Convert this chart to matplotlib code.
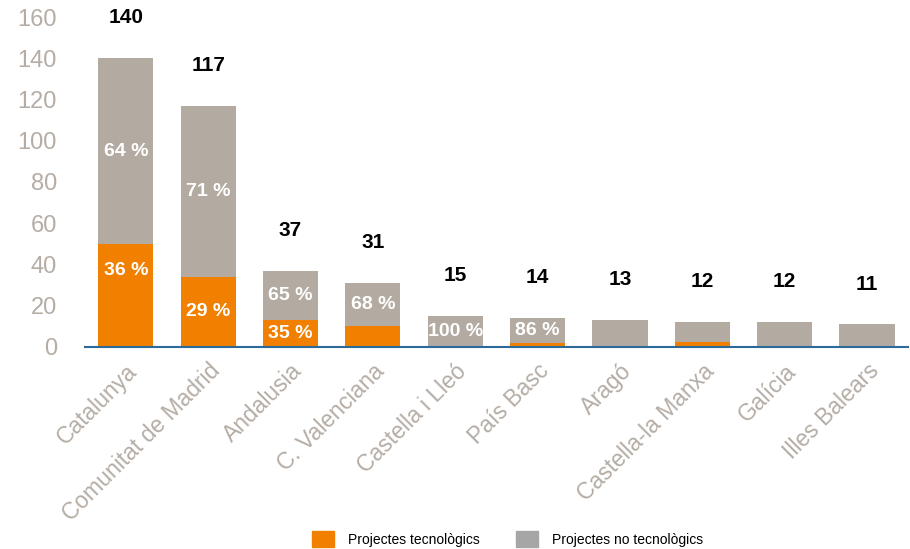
import matplotlib.pyplot as plt
from matplotlib.patches import Patch
import numpy as np

plt.rcParams['font.family'] = ['Liberation Sans', 'DejaVu Sans']

# data
regions = ["Catalunya", "Comunitat de Madrid", "Andalusia", "C. Valenciana",
           "Castella i Lleó", "País Basc", "Aragó", "Castella-la Manxa",
           "Galícia", "Illes Balears"]
totals = [140, 117, 37, 31, 15, 14, 13, 12, 12, 11]
tech = [50, 34, 13, 10, 0, 2, 0.4, 2.5, 0.4, 0.6]
tech_pct = ["36 %", "29 %", "35 %", "", "", "", "", "", "", ""]
notech_pct = ["64 %", "71 %", "65 %", "68 %", "100 %", "86 %", "", "", "", ""]

ORANGE = '#f28000'
BEIGE = '#b3aba2'
LEGEND_GRAY = '#a6a6a6'
TICK_GRAY = '#b5ada5'
AXIS_BLUE = '#2b6a99'

tech = np.array(tech)
notech = np.array(totals) - tech
x = np.arange(len(regions))

fig = plt.figure(figsize=(9.1, 5.49), dpi=100)
ax = fig.add_axes([0.093, 0.368, 0.905, 0.601])

ax.bar(x, tech, width=0.67, color=ORANGE, linewidth=0)
ax.bar(x, notech, width=0.67, bottom=tech, color=BEIGE, linewidth=0)

# totals above bars
for xi, t in zip(x, totals):
    ax.annotate(str(t), (xi, t), xytext=(0, 29), textcoords='offset points',
                ha='center', va='center', fontsize=15, fontweight='bold',
                color='black', annotation_clip=False)

# percentages inside segments
for xi, t, n, tp, npct in zip(x, tech, notech, tech_pct, notech_pct):
    if tp:
        yy = t / 2
        if t > 40:
            yy = t - 13
        ax.text(xi, yy, tp, ha='center', va='center', fontsize=14,
                fontweight='bold', color='white')
    if npct:
        ax.text(xi, t + n / 2, npct, ha='center', va='center', fontsize=14,
                fontweight='bold', color='white')

ax.set_xlim(-0.5, len(regions) - 0.5)
ax.set_ylim(0, 160)
ax.set_yticks(np.arange(0, 161, 20))
ax.tick_params(axis='y', length=0, labelsize=17, labelcolor=TICK_GRAY, pad=20)
ax.tick_params(axis='x', length=0, labelsize=16.5, labelcolor=TICK_GRAY, pad=9)
ax.set_xticks(x)
ax.set_xticklabels(regions, rotation=45, ha='right', rotation_mode='anchor')

for side in ['top', 'right', 'left']:
    ax.spines[side].set_visible(False)
ax.spines['bottom'].set_color(AXIS_BLUE)
ax.spines['bottom'].set_linewidth(1.5)

handles = [Patch(color=ORANGE, label="Projectes tecnològics"),
           Patch(color=LEGEND_GRAY, label="Projectes no tecnològics")]
fig.legend(handles=handles, loc='lower center', bbox_to_anchor=(0.558, -0.02),
           ncol=2, frameon=False, fontsize=10, handlelength=1.6,
           handleheight=1.4, columnspacing=2.6, handletextpad=1.0)

fig.savefig('out.png', dpi=100)
